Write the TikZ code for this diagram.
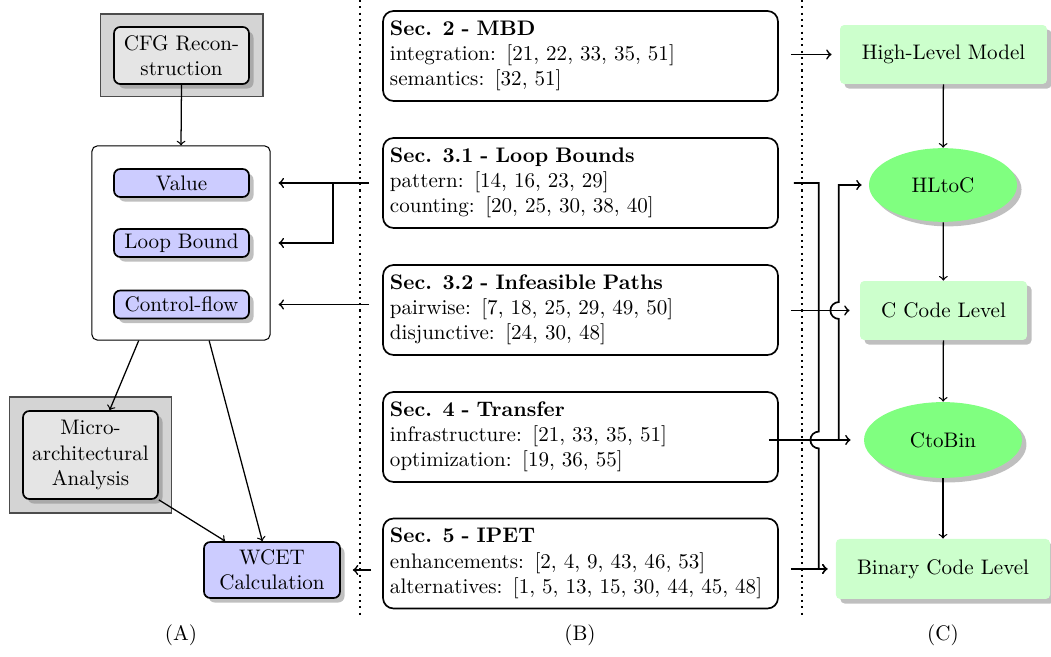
\documentclass[tikz,border=0pt]{standalone}
\usetikzlibrary{shapes.geometric,shadows,calc}
\begin{document}
\begin{tikzpicture}[x=0.475pt,y=-0.475pt,
  outer/.style={rectangle, draw=black!70, fill=black!17, line width=0.5pt, minimum width=77.4pt},
  graybox/.style={rectangle, rounded corners=3pt, draw, thick, fill=black!10, drop shadow, align=center, minimum width=64.1pt, inner sep=1.5pt},
  bluebox/.style={rectangle, rounded corners=3pt, draw, thick, fill=blue!20, drop shadow, align=center, minimum width=64.1pt, minimum height=13.3pt, inner sep=1.5pt},
  bigbox/.style={rectangle, rounded corners=2.5pt, draw, line width=0.5pt, fill=white},
  secbox/.style={rectangle, rounded corners=5pt, draw, thick, align=left, text width=181pt, minimum height=42.75pt, inner sep=3.3pt},
  greenbox/.style={rectangle, rounded corners=2pt, fill=green!20, drop shadow, minimum height=28pt},
  greenell/.style={ellipse, fill=green!50, drop shadow},
  conn/.style={thick, ->},
  flow/.style={semithick, ->},
  sep/.style={dotted, line width=1pt}
]
\useasboundingbox (0,0) rectangle (1051,657);

% separators
\coordinate (d1t) at (360,0); \coordinate (d1b) at (360,617);
\coordinate (d2t) at (802,0); \coordinate (d2b) at (802,617);
\draw[sep] (d1t) -- (d1b);
\draw[sep] (d2t) -- (d2b);

% (A)
\node[outer, minimum height=39.4pt] (cfgbg) at (181.5,55.5) {};
\node[graybox, minimum height=27.1pt] (cfg) at (181.5,55.5) {CFG Recon-\\struction};
\node[bigbox, minimum width=84.6pt, minimum height=92.2pt] (big) at (181,243) {};
\node[bluebox] (val) at (181.5,183) {Value};
\node[bluebox] (lb) at (181.5,243) {Loop Bound};
\node[bluebox] (cf) at (181.5,304.5) {Control-flow};
\node[outer, minimum height=55.1pt] (mabg) at (90.5,455) {};
\node[graybox, minimum height=41.8pt] (ma) at (90.5,455) {Micro-\\architectural\\Analysis};
\node[bluebox, minimum height=26.6pt, minimum width=64.6pt] (wcet) at (272,570) {WCET\\Calculation};

\draw[flow] (cfg.south) -- (big.north);
\draw[flow] ($(big.south west)!0.264!(big.south east)$) -- ($(ma.north west)!0.64!(ma.north east)$);
\draw[flow] ($(big.south west)!0.657!(big.south east)$) -- ($(wcet.north west)!0.43!(wcet.north east)$);
\draw[flow] (ma.south east) -- ($(wcet.north west)!0.16!(wcet.north east)$);

% (B)
\node[secbox] (mbd) at (580.5,56) {\textbf{Sec. 2 - MBD}\\integration: [21, 22, 33, 35, 51]\\semantics: [32, 51]};
\node[secbox] (s31) at (580.5,183) {\textbf{Sec. 3.1 - Loop Bounds}\\pattern: [14, 16, 23, 29]\\counting: [20, 25, 30, 38, 40]};
\node[secbox] (s32) at (580.5,310) {\textbf{Sec. 3.2 - Infeasible Paths}\\pairwise: [7, 18, 25, 29, 49, 50]\\disjunctive: [24, 30, 48]};
\node[secbox] (s4) at (580.5,437) {\textbf{Sec. 4 - Transfer}\\infrastructure: [21, 33, 35, 51]\\optimization: [19, 36, 55]};
\node[secbox] (s5) at (580.5,563.5) {\textbf{Sec. 5 - IPET}\\enhancements: [2, 4, 9, 43, 46, 53]\\alternatives: [1, 5, 13, 15, 30, 44, 45, 48]};

% (C)
\node[greenbox, minimum width=98.3pt] (hlm) at (943.5,54.5) {High-Level Model};
\node[greenell, minimum width=70.3pt, minimum height=35pt] (hc) at (943,185) {HLtoC};
\node[greenbox, minimum width=79.3pt] (cc) at (943.5,310.5) {C Code Level};
\node[greenell, minimum width=75pt, minimum height=36pt] (cb) at (943,440) {CtoBin};
\node[greenbox, minimum width=101.7pt, minimum height=28.5pt] (bin) at (943,569) {Binary Code Level};

\draw[flow] (hlm) -- (hc);
\draw[flow] (hc) -- (cc);
\draw[flow] (cc) -- (cb);
\draw[flow] (cb) -- (bin);

% labels
\node (la) at (181,635) {(A)};
\node (lbl) at (580,635) {(B)};
\node (lc) at (943,635) {(C)};

% left connectors
\path (big.east |- val.east) ++(3.8pt,0) coordinate (tVal);
\path (big.east |- lb.east) ++(3.8pt,0) coordinate (tLB);
\path (big.east |- cf.east) ++(3.8pt,0) coordinate (tCF);
\path (s31.west |- val.east) ++(-6.2pt,0) coordinate (o31);
\path (s32.west |- cf.east) ++(-6.2pt,0) coordinate (o32);
\path (s5.west |- wcet.east) ++(-5.2pt,0) coordinate (o5);
\path (wcet.east) ++(5.7pt,0) coordinate (tW);
\coordinate (j31) at ($(o31)!0.4!(tVal)$);
\draw[conn] (o31) -- (tVal);
\draw[conn] (j31) |- (tLB);
\draw[conn] (o32) -- (tCF);
\draw[conn] (o5) -- (tW);

% right connectors
\path (mbd.east |- hlm.west) ++(5.7pt,0) coordinate (oM);
\path (hlm.west) ++(-3.8pt,0) coordinate (tM);
\draw[conn] (oM) -- (tM);

\path (s32.east |- cc.west) ++(5.7pt,0) coordinate (oI);
\path (cc.west) ++(-4.75pt,0) coordinate (tI);

\path (s31.east) ++(7.1pt,0) coordinate (oL);
\path (s31.east) ++(19pt,0) coordinate (vL);
\path (bin.west) ++(-3.8pt,0) coordinate (tB);
\path (s5.east |- bin.west) ++(5.7pt,0) coordinate (oP);

\path (s4.east |- cb.west) ++(-4.75pt,0) coordinate (oT);
\path (cb.west) ++(-6.2pt,0) coordinate (tT);
\path (s4.east |- cb.west) ++(28.5pt,0) coordinate (vT);
\path (hc.west) ++(-3.3pt,0) coordinate (tH);

\draw[conn] (oI) -- (tI);
\draw[conn] (oT) -- (tT);
\draw[conn] (oP) -- (tB);
% Transfer branch up to HLtoC with a jump over the Infeasible line
\draw[conn] (vT) -- ($(vT |- tI)+(0,-4pt)$) arc[start angle=270, end angle=90, radius=4pt]
  -- (vT |- tH) -- (tH);
% Loop Bounds down to Binary Code Level with a jump over the Transfer line
\draw[conn] (oL) -- (vL) -- ($(vL |- tT)+(0,4pt)$) arc[start angle=90, end angle=270, radius=4pt]
  -- (vL |- tB) -- (tB);
\end{tikzpicture}
\end{document}
